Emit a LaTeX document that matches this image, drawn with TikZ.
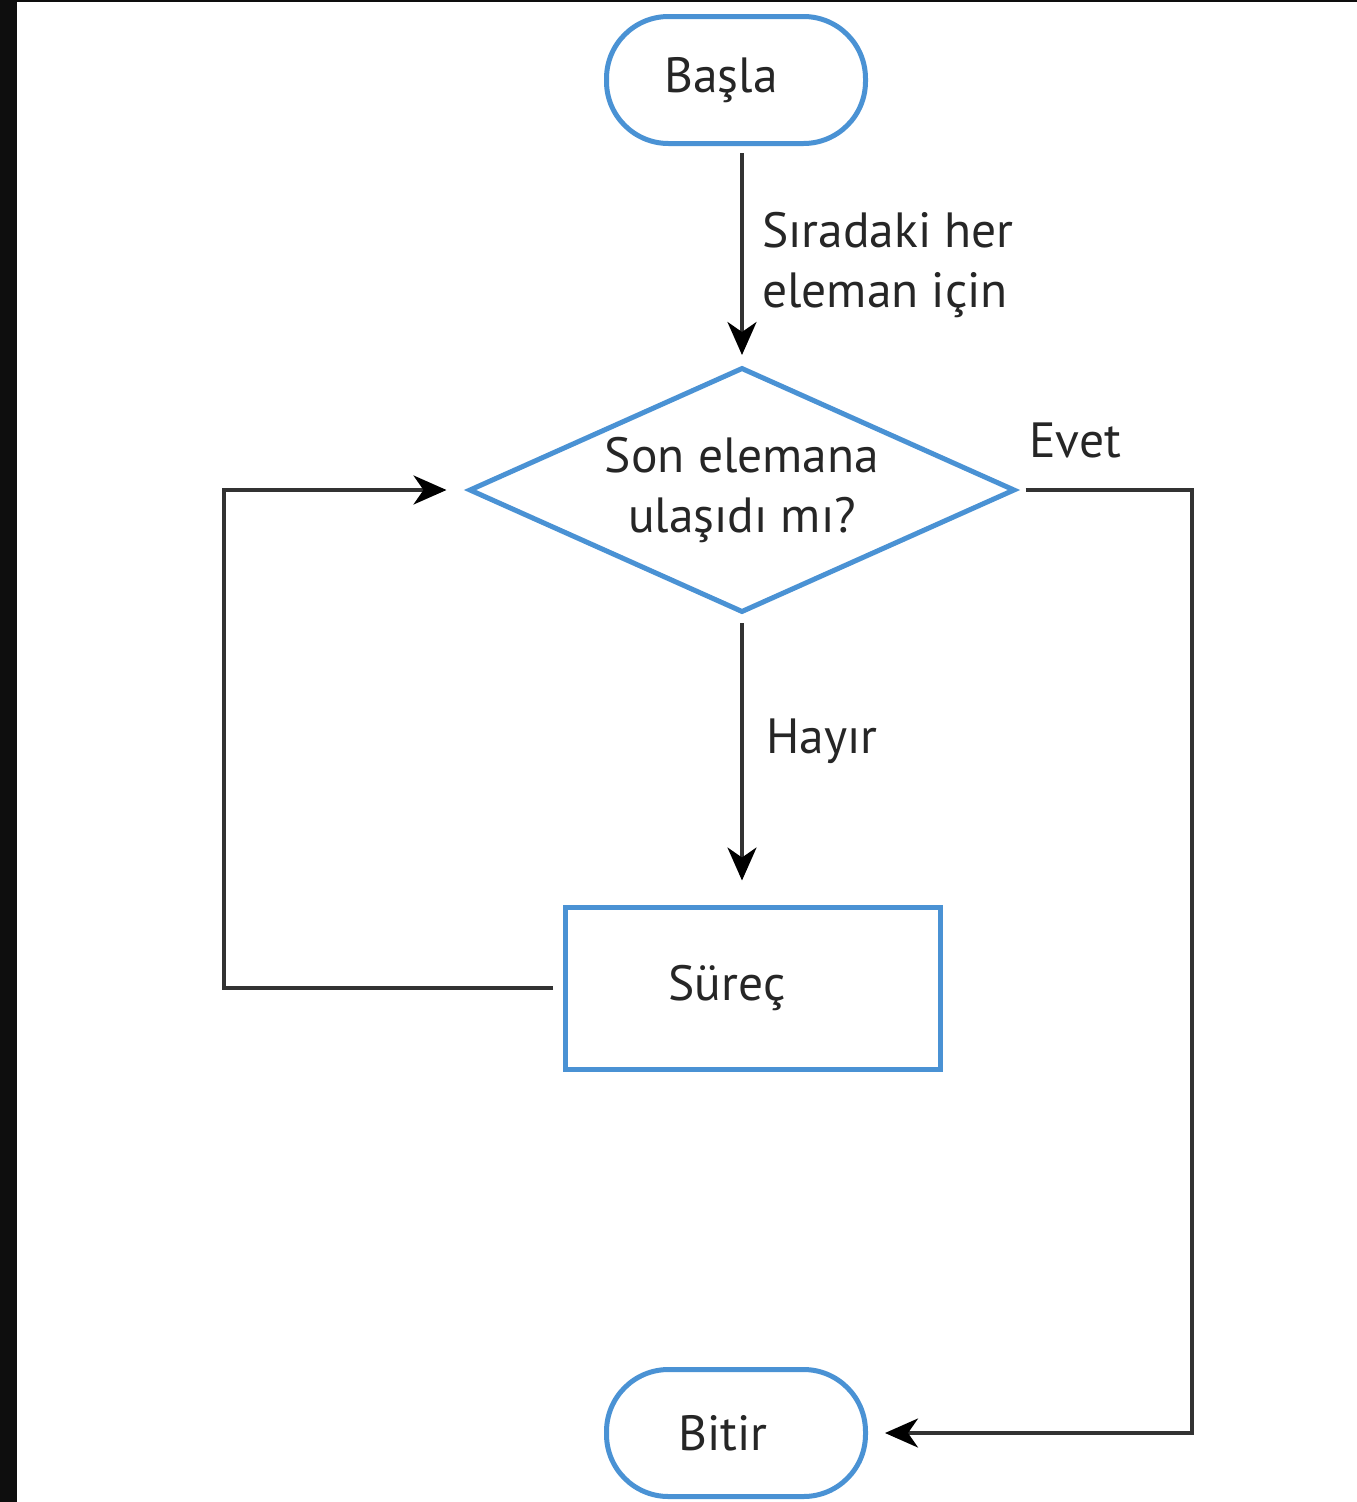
\documentclass[tikz,border=0pt]{standalone}
\usepackage{fontspec}
\setmainfont{PT Sans}
\usetikzlibrary{shapes.geometric,arrows.meta}
\definecolor{fblue}{RGB}{74,146,212}
\definecolor{fline}{RGB}{50,50,50}
\definecolor{ftext}{RGB}{38,38,38}
\definecolor{bgdark}{RGB}{14,14,14}
\begin{document}
\begin{tikzpicture}[x=1pt,y=1pt,
  txt/.style={font=\fontsize{49.5}{60}\selectfont, text=ftext, inner sep=0pt},
  term/.style={draw=fblue, line width=5pt, rectangle, rounded corners=62pt,
    minimum width=259pt, minimum height=127pt, inner sep=0pt},
  procbox/.style={draw=fblue, line width=5pt, rectangle,
    minimum width=375pt, minimum height=162pt, inner sep=0pt},
  decbox/.style={draw=fblue, line width=5pt, diamond, aspect=2.2,
    minimum width=546pt, minimum height=245pt, inner sep=0pt,
    font=\fontsize{49.5}{60}\selectfont, text=ftext, align=center},
  conn/.style={draw=fline, line width=3.5pt},
  arrowend/.style={-{Stealth[length=33pt,width=29pt,inset=10pt,color=black]}}
]
\fill[white] (0,0) rectangle (1357,-1502);
\fill[bgdark] (0,0) rectangle (17,-1502);
\fill[bgdark] (0,0) rectangle (1357,-2);
\useasboundingbox (0,0) rectangle (1357,-1502);

\node[term, label={[txt, xshift=-15pt]center:Başla}] (start) at (736,-80) {};
\node[decbox] (dec) at (742,-490) {Son elemana\\ulaşıdı mı?};
\node[procbox, label={[txt, xshift=-26pt]center:Süreç}] (proc) at (753,-988) {};
\node[term, label={[txt, xshift=-13pt]center:Bitir}] (end) at (736,-1433) {};

\coordinate (ev) at (1192,-487);
\coordinate (lp) at (224,-993);

\draw[conn, arrowend, shorten <=7pt, shorten >=10pt] (start.south -| dec.north) -- (dec.north);
\draw[conn, arrowend, shorten <=8pt, shorten >=24pt] (dec.south) -- (dec.south |- proc.north);
\draw[conn, arrowend, shorten <=8pt, shorten >=17pt] (dec.east) -- (dec.east -| ev) |- (end.east);
\draw[conn, arrowend, shorten <=10pt, shorten >=20pt] (proc.west) -- (proc.west -| lp) |- (dec.west);

\node[txt, anchor=west, align=left] (l1) at (762,-265) {Sıradaki her\\eleman için};
\node[txt] (l2) at (1075,-440) {Evet};
\node[txt, anchor=west] (l3) at (766,-741) {Hayır};
\end{tikzpicture}
\end{document}
